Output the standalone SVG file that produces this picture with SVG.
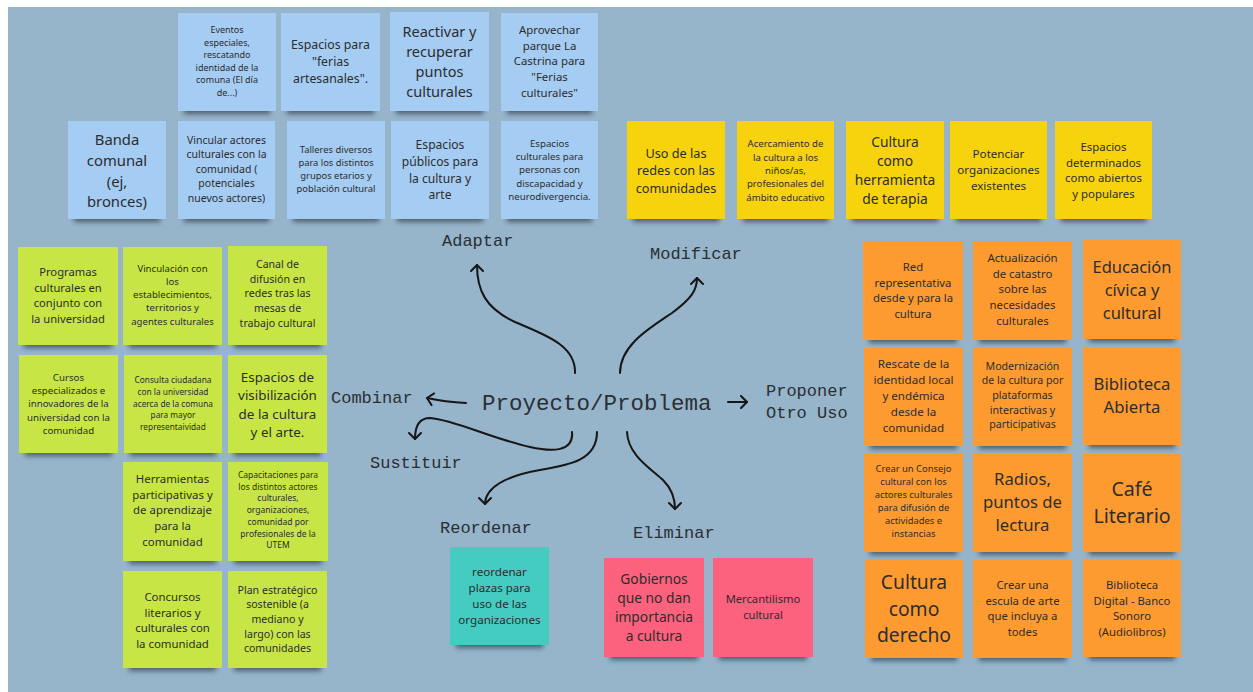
<svg xmlns="http://www.w3.org/2000/svg" width="1253" height="692" viewBox="0 0 1253 692">
<style>
.bg{fill:#96b4ca}
.sh{fill:#26323d;opacity:.65;filter:url(#blur)}
.blue{fill:#a5ccf3}
.yellow{fill:#f6d30d}
.green{fill:#c7e646}
.orange{fill:#fd9b31}
.teal{fill:#44ccc0}
.pink{fill:#fc617d}
.t{font-family:"Noto Sans","Open Sans",sans-serif;fill:#2d2d2d;text-anchor:middle}
.lbl{font-family:"Liberation Mono","DejaVu Sans Mono",monospace;font-size:17px;fill:#2a2f34}
.con{fill:none;stroke:#161616;stroke-width:2;stroke-linecap:round;marker-end:url(#chev)}
</style>
<defs>
<filter id="blur" x="-20%" y="-100%" width="140%" height="300%"><feGaussianBlur stdDeviation="2.5"/></filter>
<marker id="chev" markerUnits="userSpaceOnUse" markerWidth="14" markerHeight="14" viewBox="0 0 14 14" refX="9" refY="7" orient="auto"><path d="M3,1 L9,7 L3,13" fill="none" stroke="#161616" stroke-width="2" stroke-linecap="round" stroke-linejoin="round"/></marker>
</defs>
<rect width="1253" height="692" fill="#fff"/>
<rect class="bg" x="8" y="7" width="1245" height="685"/>

<!-- Blue notes -->
<g id="n-eventos"><rect class="sh" x="184" y="104" width="86" height="10"/><rect class="blue" x="178" y="13" width="98" height="98"/>
<text class="t" font-size="9" y="33"><tspan x="227">Eventos</tspan><tspan x="227" dy="12.5">especiales,</tspan><tspan x="227" dy="12.5">rescatando</tspan><tspan x="227" dy="12.5">identidad de la</tspan><tspan x="227" dy="12.5">comuna (El día</tspan><tspan x="227" dy="12.5">de...)</tspan></text></g>
<g id="n-ferias"><rect class="sh" x="287" y="104" width="87" height="10"/><rect class="blue" x="281" y="13" width="99" height="98"/>
<text class="t" font-size="12.3" y="48.5"><tspan x="330.5">Espacios para</tspan><tspan x="330.5" dy="17.3">"ferias</tspan><tspan x="330.5" dy="17.3">artesanales".</tspan></text></g>
<g id="n-reactivar"><rect class="sh" x="396" y="104" width="87" height="10"/><rect class="blue" x="390" y="12" width="99" height="99"/>
<text class="t" font-size="14.5" y="37"><tspan x="439.5">Reactivar y</tspan><tspan x="439.5" dy="20">recuperar</tspan><tspan x="439.5" dy="20">puntos</tspan><tspan x="439.5" dy="20">culturales</tspan></text></g>
<g id="n-aprovechar"><rect class="sh" x="507" y="104" width="85" height="10"/><rect class="blue" x="501" y="13" width="97" height="98"/>
<text class="t" font-size="11.4" y="34"><tspan x="549.5">Aprovechar</tspan><tspan x="549.5" dy="15.7">parque La</tspan><tspan x="549.5" dy="15.7">Castrina para</tspan><tspan x="549.5" dy="15.7">"Ferias</tspan><tspan x="549.5" dy="15.7">culturales"</tspan></text></g>
<g id="n-banda"><rect class="sh" x="74" y="212" width="86" height="10"/><rect class="blue" x="68" y="121" width="98" height="98"/>
<text class="t" font-size="14.8" y="145.3"><tspan x="117">Banda</tspan><tspan x="117" dy="20.7">comunal</tspan><tspan x="117" dy="20.7">(ej,</tspan><tspan x="117" dy="20.7">bronces)</tspan></text></g>
<g id="n-vincular"><rect class="sh" x="184" y="212" width="85" height="10"/><rect class="blue" x="178" y="121" width="97" height="98"/>
<text class="t" font-size="10.5" y="143.8"><tspan x="226.5">Vincular actores</tspan><tspan x="226.5" dy="14.5">culturales con la</tspan><tspan x="226.5" dy="14.5">comunidad (</tspan><tspan x="226.5" dy="14.5">potenciales</tspan><tspan x="226.5" dy="14.5">nuevos actores)</tspan></text></g>
<g id="n-talleres"><rect class="sh" x="293" y="212" width="86" height="10"/><rect class="blue" x="287" y="121" width="98" height="98"/>
<text class="t" font-size="9.4" y="153.4"><tspan x="336">Talleres diversos</tspan><tspan x="336" dy="13">para los distintos</tspan><tspan x="336" dy="13">grupos etarios y</tspan><tspan x="336" dy="13">población cultural</tspan></text></g>
<g id="n-publicos"><rect class="sh" x="397" y="212" width="86" height="10"/><rect class="blue" x="391" y="121" width="98" height="98"/>
<text class="t" font-size="12.1" y="149.3"><tspan x="440">Espacios</tspan><tspan x="440" dy="16.7">públicos para</tspan><tspan x="440" dy="16.7">la cultura y</tspan><tspan x="440" dy="16.7">arte</tspan></text></g>
<g id="n-discapacidad"><rect class="sh" x="507" y="212" width="85" height="10"/><rect class="blue" x="501" y="121" width="97" height="98"/>
<text class="t" font-size="9.7" y="146.5"><tspan x="549.5">Espacios</tspan><tspan x="549.5" dy="13.4">culturales para</tspan><tspan x="549.5" dy="13.4">personas con</tspan><tspan x="549.5" dy="13.4">discapacidad y</tspan><tspan x="549.5" dy="13.4">neurodivergencia.</tspan></text></g>

<!-- Yellow notes -->
<g id="n-redes"><rect class="sh" x="633" y="212" width="86" height="10"/><rect class="yellow" x="627" y="121" width="98" height="98"/>
<text class="t" font-size="12.7" y="157.6"><tspan x="676">Uso de las</tspan><tspan x="676" dy="17.5">redes con las</tspan><tspan x="676" dy="17.5">comunidades</tspan></text></g>
<g id="n-acercamiento"><rect class="sh" x="743" y="212" width="85" height="10"/><rect class="yellow" x="737" y="121" width="97" height="98"/>
<text class="t" font-size="9.6" y="147.4"><tspan x="785.5">Acercamiento de</tspan><tspan x="785.5" dy="13.3">la cultura a los</tspan><tspan x="785.5" dy="13.3">niños/as,</tspan><tspan x="785.5" dy="13.3">profesionales del</tspan><tspan x="785.5" dy="13.3">ámbito educativo</tspan></text></g>
<g id="n-terapia"><rect class="sh" x="852" y="212" width="86" height="10"/><rect class="yellow" x="846" y="121" width="98" height="98"/>
<text class="t" font-size="13.8" y="147"><tspan x="895">Cultura</tspan><tspan x="895" dy="19">como</tspan><tspan x="895" dy="19">herramienta</tspan><tspan x="895" dy="19">de terapia</tspan></text></g>
<g id="n-potenciar"><rect class="sh" x="956" y="212" width="85" height="10"/><rect class="yellow" x="950" y="121" width="97" height="98"/>
<text class="t" font-size="11.6" y="158.2"><tspan x="998.5">Potenciar</tspan><tspan x="998.5" dy="16">organizaciones</tspan><tspan x="998.5" dy="16">existentes</tspan></text></g>
<g id="n-abiertos"><rect class="sh" x="1061" y="212" width="85" height="10"/><rect class="yellow" x="1055" y="121" width="97" height="98"/>
<text class="t" font-size="11.4" y="151"><tspan x="1103.5">Espacios</tspan><tspan x="1103.5" dy="15.7">determinados</tspan><tspan x="1103.5" dy="15.7">como abiertos</tspan><tspan x="1103.5" dy="15.7">y populares</tspan></text></g>

<!-- Green notes -->
<g id="n-programas"><rect class="sh" x="24" y="338" width="88" height="10"/><rect class="green" x="18" y="247" width="100" height="98"/>
<text class="t" font-size="11.2" y="276"><tspan x="68">Programas</tspan><tspan x="68" dy="15.5">culturales en</tspan><tspan x="68" dy="15.5">conjunto con</tspan><tspan x="68" dy="15.5">la universidad</tspan></text></g>
<g id="n-vinculacion"><rect class="sh" x="129" y="338" width="87" height="10"/><rect class="green" x="123" y="247" width="99" height="98"/>
<text class="t" font-size="9.6" y="271.5"><tspan x="172.5">Vinculación con</tspan><tspan x="172.5" dy="13.3">los</tspan><tspan x="172.5" dy="13.3">establecimientos,</tspan><tspan x="172.5" dy="13.3">territorios y</tspan><tspan x="172.5" dy="13.3">agentes culturales</tspan></text></g>
<g id="n-canal"><rect class="sh" x="234" y="338" width="87" height="10"/><rect class="green" x="228" y="246" width="99" height="99"/>
<text class="t" font-size="10.6" y="267.8"><tspan x="277.5">Canal de</tspan><tspan x="277.5" dy="14.7">difusión en</tspan><tspan x="277.5" dy="14.7">redes tras las</tspan><tspan x="277.5" dy="14.7">mesas de</tspan><tspan x="277.5" dy="14.7">trabajo cultural</tspan></text></g>
<g id="n-cursos"><rect class="sh" x="25" y="446" width="87" height="10"/><rect class="green" x="19" y="355" width="99" height="98"/>
<text class="t" font-size="9.7" y="380.5"><tspan x="68.5">Cursos</tspan><tspan x="68.5" dy="13.4">especializados e</tspan><tspan x="68.5" dy="13.4">innovadores de la</tspan><tspan x="68.5" dy="13.4">universidad con la</tspan><tspan x="68.5" dy="13.4">comunidad</tspan></text></g>
<g id="n-consulta"><rect class="sh" x="130" y="446" width="86" height="10"/><rect class="green" x="124" y="355" width="98" height="98"/>
<text class="t" font-size="8.3" y="383"><tspan x="173">Consulta ciudadana</tspan><tspan x="173" dy="11.75">con la universidad</tspan><tspan x="173" dy="11.75">acerca de la comuna</tspan><tspan x="173" dy="11.75">para mayor</tspan><tspan x="173" dy="11.75">representaividad</tspan></text></g>
<g id="n-visibilizacion"><rect class="sh" x="234" y="446" width="87" height="10"/><rect class="green" x="228" y="355" width="99" height="98"/>
<text class="t" font-size="13.4" y="381.8"><tspan x="277.5">Espacios de</tspan><tspan x="277.5" dy="18.5">visibilización</tspan><tspan x="277.5" dy="18.5">de la cultura</tspan><tspan x="277.5" dy="18.5">y el arte.</tspan></text></g>
<g id="n-herramientas"><rect class="sh" x="129" y="554" width="87" height="10"/><rect class="green" x="123" y="462" width="99" height="99"/>
<text class="t" font-size="11.4" y="483"><tspan x="172.5">Herramientas</tspan><tspan x="172.5" dy="15.7">participativas y</tspan><tspan x="172.5" dy="15.7">de aprendizaje</tspan><tspan x="172.5" dy="15.7">para la</tspan><tspan x="172.5" dy="15.7">comunidad</tspan></text></g>
<g id="n-capacitaciones"><rect class="sh" x="234" y="554" width="88" height="10"/><rect class="green" x="228" y="462" width="100" height="99"/>
<text class="t" font-size="8.5" y="478"><tspan x="278">Capacitaciones para</tspan><tspan x="278" dy="11.7">los distintos actores</tspan><tspan x="278" dy="11.7">culturales,</tspan><tspan x="278" dy="11.7">organizaciones,</tspan><tspan x="278" dy="11.7">comunidad por</tspan><tspan x="278" dy="11.7">profesionales de la</tspan><tspan x="278" dy="11.7">UTEM</tspan></text></g>
<g id="n-concursos"><rect class="sh" x="129" y="661" width="87" height="10"/><rect class="green" x="123" y="571" width="99" height="97"/>
<text class="t" font-size="11.4" y="601"><tspan x="172.5">Concursos</tspan><tspan x="172.5" dy="15.7">literarios y</tspan><tspan x="172.5" dy="15.7">culturales con</tspan><tspan x="172.5" dy="15.7">la comunidad</tspan></text></g>
<g id="n-plan"><rect class="sh" x="234" y="661" width="87" height="10"/><rect class="green" x="228" y="571" width="99" height="97"/>
<text class="t" font-size="10.6" y="593.8"><tspan x="277.5">Plan estratégico</tspan><tspan x="277.5" dy="14.6">sostenible (a</tspan><tspan x="277.5" dy="14.6">mediano y</tspan><tspan x="277.5" dy="14.6">largo) con las</tspan><tspan x="277.5" dy="14.6">comunidades</tspan></text></g>

<!-- Orange notes -->
<g id="n-red"><rect class="sh" x="869" y="333" width="88" height="10"/><rect class="orange" x="863" y="241" width="100" height="99"/>
<text class="t" font-size="11.3" y="271"><tspan x="913">Red</tspan><tspan x="913" dy="15.6">representativa</tspan><tspan x="913" dy="15.6">desde y para la</tspan><tspan x="913" dy="15.6">cultura</tspan></text></g>
<g id="n-catastro"><rect class="sh" x="979" y="333" width="87" height="10"/><rect class="orange" x="973" y="241" width="99" height="99"/>
<text class="t" font-size="11.4" y="262"><tspan x="1022.5">Actualización</tspan><tspan x="1022.5" dy="15.7">de catastro</tspan><tspan x="1022.5" dy="15.7">sobre las</tspan><tspan x="1022.5" dy="15.7">necesidades</tspan><tspan x="1022.5" dy="15.7">culturales</tspan></text></g>
<g id="n-civica"><rect class="sh" x="1089" y="332" width="86" height="10"/><rect class="orange" x="1083" y="240" width="98" height="99"/>
<text class="t" font-size="16.5" y="273"><tspan x="1132">Educación</tspan><tspan x="1132" dy="22.8">cívica y</tspan><tspan x="1132" dy="22.8">cultural</tspan></text></g>
<g id="n-rescate"><rect class="sh" x="870" y="439" width="87" height="10"/><rect class="orange" x="864" y="348" width="99" height="98"/>
<text class="t" font-size="11.6" y="368"><tspan x="913.5">Rescate de la</tspan><tspan x="913.5" dy="16">identidad local</tspan><tspan x="913.5" dy="16">y endémica</tspan><tspan x="913.5" dy="16">desde la</tspan><tspan x="913.5" dy="16">comunidad</tspan></text></g>
<g id="n-modernizacion"><rect class="sh" x="979" y="439" width="87" height="10"/><rect class="orange" x="973" y="348" width="99" height="98"/>
<text class="t" font-size="10.6" y="369.8"><tspan x="1022.5">Modernización</tspan><tspan x="1022.5" dy="14.6">de la cultura por</tspan><tspan x="1022.5" dy="14.6">plataformas</tspan><tspan x="1022.5" dy="14.6">interactivas y</tspan><tspan x="1022.5" dy="14.6">participativas</tspan></text></g>
<g id="n-biblioteca"><rect class="sh" x="1089" y="438" width="86" height="10"/><rect class="orange" x="1083" y="347" width="98" height="98"/>
<text class="t" font-size="16.7" y="390"><tspan x="1132">Biblioteca</tspan><tspan x="1132" dy="23">Abierta</tspan></text></g>
<g id="n-consejo"><rect class="sh" x="870" y="545" width="87" height="10"/><rect class="orange" x="864" y="453" width="99" height="99"/>
<text class="t" font-size="9.4" y="472.4"><tspan x="913.5">Crear un Consejo</tspan><tspan x="913.5" dy="13">cultural con los</tspan><tspan x="913.5" dy="13">actores culturales</tspan><tspan x="913.5" dy="13">para difusión de</tspan><tspan x="913.5" dy="13">actividades e</tspan><tspan x="913.5" dy="13">instancias</tspan></text></g>
<g id="n-radios"><rect class="sh" x="979" y="545" width="87" height="10"/><rect class="orange" x="973" y="453" width="99" height="99"/>
<text class="t" font-size="16.7" y="485"><tspan x="1022.5">Radios,</tspan><tspan x="1022.5" dy="23">puntos de</tspan><tspan x="1022.5" dy="23">lectura</tspan></text></g>
<g id="n-cafe"><rect class="sh" x="1089" y="545" width="86" height="10"/><rect class="orange" x="1083" y="453" width="98" height="99"/>
<text class="t" font-size="19.6" y="496"><tspan x="1132">Café</tspan><tspan x="1132" dy="27">Literario</tspan></text></g>
<g id="n-derecho"><rect class="sh" x="871" y="651" width="86" height="10"/><rect class="orange" x="865" y="560" width="98" height="98"/>
<text class="t" font-size="19.3" y="589"><tspan x="914">Cultura</tspan><tspan x="914" dy="26.7">como</tspan><tspan x="914" dy="26.7">derecho</tspan></text></g>
<g id="n-escuela"><rect class="sh" x="979" y="651" width="87" height="10"/><rect class="orange" x="973" y="560" width="99" height="98"/>
<text class="t" font-size="11.3" y="589"><tspan x="1022.5">Crear una</tspan><tspan x="1022.5" dy="15.6">escula de arte</tspan><tspan x="1022.5" dy="15.6">que incluya a</tspan><tspan x="1022.5" dy="15.6">todes</tspan></text></g>
<g id="n-digital"><rect class="sh" x="1089" y="650" width="86" height="10"/><rect class="orange" x="1083" y="559" width="98" height="98"/>
<text class="t" font-size="11.3" y="589"><tspan x="1132">Biblioteca</tspan><tspan x="1132" dy="15.6">Digital - Banco</tspan><tspan x="1132" dy="15.6">Sonoro</tspan><tspan x="1132" dy="15.6">(Audiolibros)</tspan></text></g>

<!-- Teal / pink notes -->
<g id="n-plazas"><rect class="sh" x="456" y="638" width="87" height="10"/><rect class="teal" x="450" y="547" width="99" height="98"/>
<text class="t" font-size="11.6" y="576"><tspan x="499.5">reordenar</tspan><tspan x="499.5" dy="16">plazas para</tspan><tspan x="499.5" dy="16">uso de las</tspan><tspan x="499.5" dy="16">organizaciones</tspan></text></g>
<g id="n-gobiernos"><rect class="sh" x="610" y="650" width="88" height="10"/><rect class="pink" x="604" y="558" width="100" height="99"/>
<text class="t" font-size="13.8" y="584"><tspan x="654">Gobiernos</tspan><tspan x="654" dy="19">que no dan</tspan><tspan x="654" dy="19">importancia</tspan><tspan x="654" dy="19">a cultura</tspan></text></g>
<g id="n-mercantilismo"><rect class="sh" x="719" y="650" width="88" height="10"/><rect class="pink" x="713" y="558" width="100" height="99"/>
<text class="t" font-size="11.2" y="603"><tspan x="763">Mercantilismo</tspan><tspan x="763" dy="16">cultural</tspan></text></g>

<!-- Central labels -->
<g id="center"><text class="lbl" x="482" y="410" style="font-size:22.5px">Proyecto/Problema</text></g>
<g id="l-adaptar"><text class="lbl" x="442" y="246">Adaptar</text></g>
<g id="l-modificar"><text class="lbl" x="650" y="259">Modificar</text></g>
<g id="l-combinar"><text class="lbl" x="331" y="403">Combinar</text></g>
<g id="l-proponer"><text class="lbl" x="766" y="396">Proponer</text><text class="lbl" x="766" y="418">Otro Uso</text></g>
<g id="l-sustituir"><text class="lbl" x="370" y="468">Sustituir</text></g>
<g id="l-reordenar"><text class="lbl" x="440" y="533">Reordenar</text></g>
<g id="l-eliminar"><text class="lbl" x="633" y="538">Eliminar</text></g>

<!-- Connectors -->
<g id="connectors">
<path class="con" d="M575,373 C576,345 545,335 515,322 C485,308 477,290 477,265"/>
<path class="con" d="M620,373 C620,345 650,328 672,313 C692,298 697,290 697,278"/>
<path class="con" d="M466,403 Q445,402 427,398"/>
<path class="con" d="M728,402 L747,402"/>
<path class="con" d="M572,432 C574,452 552,452 530,447 C490,438 455,420 430,418 C418,418 415,428 415,439"/>
<path class="con" d="M597,432 C597,460 570,465 540,470 C505,476 485,488 485,504"/>
<path class="con" d="M627,432 C628,455 650,468 663,480 C672,489 675,498 675,509"/>
</g>
</svg>
